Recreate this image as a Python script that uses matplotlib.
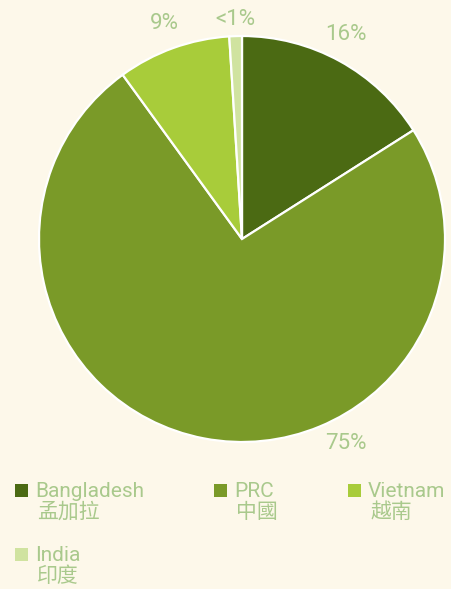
"""Pie chart of sourcing share by country."""

import numpy as np
import matplotlib.pyplot as plt
from matplotlib.patches import Rectangle

countries = ["Bangladesh", "PRC", "Vietnam", "India"]
countries_zh = ["孟加拉", "中國", "越南", "印度"]
shares = [16, 74, 9, 1]
share_labels = ["16%", "75%", "9%", "<1%"]
colors = ["#4b6a13", "#7a9a28", "#a8cc3a", "#d0e3a0"]

BG = "#fdf8ea"
TEXT = "#a9c98c"
W, H = 452, 589

plt.rcParams["font.family"] = ["Roboto", "DejaVu Sans"]

fig = plt.figure(figsize=(W / 100, H / 100), dpi=100, facecolor=BG)

# pie: centre (242, 239) px, radius 203 px
cx, cy, r = 242, 239, 203
ax = fig.add_axes([(cx - r) / W, (H - cy - r) / H, 2 * r / W, 2 * r / H])
ax.set_facecolor(BG)
wedges, _ = ax.pie(
    shares,
    colors=colors,
    startangle=90,
    counterclock=False,
    radius=1,
    wedgeprops=dict(edgecolor="white", linewidth=1.6),
)
ax.set_xlim(-1, 1)
ax.set_ylim(-1, 1)
ax.set_aspect("equal")
ax.axis("off")

# percentage labels just outside the wedges; the big PRC label sits lower right
for w, lab, name in zip(wedges, share_labels, countries):
    mid = (w.theta1 + w.theta2) / 2
    ang = np.deg2rad(-63 if name == "PRC" else (63 if name == "Bangladesh" else mid))
    dist = 1.08 if name == "India" else 1.13
    ax.text(dist * np.cos(ang), dist * np.sin(ang), lab, ha="center", va="center",
            fontsize=16, color=TEXT, clip_on=False)

# legend, laid out by hand in three columns
legend_x = [15, 214, 348, 15]
legend_y = [497, 497, 497, 561]
for x, y, name, zh, c in zip(legend_x, legend_y, countries, countries_zh, colors):
    fig.patches.append(Rectangle((x / W, 1 - y / H), 13 / W, 13 / H,
                                 transform=fig.transFigure, facecolor=c, edgecolor="none"))
    fig.text((x + 20) / W, 1 - y / H, name, fontsize=15, color=TEXT, va="baseline")
    fig.text((x + 22) / W, 1 - (y + 21) / H, zh, fontsize=15, color=TEXT,
             family=["Noto Sans CJK TC", "DejaVu Sans"], fontweight="light", va="baseline")

fig.savefig("out.png", dpi=100, facecolor=BG)
